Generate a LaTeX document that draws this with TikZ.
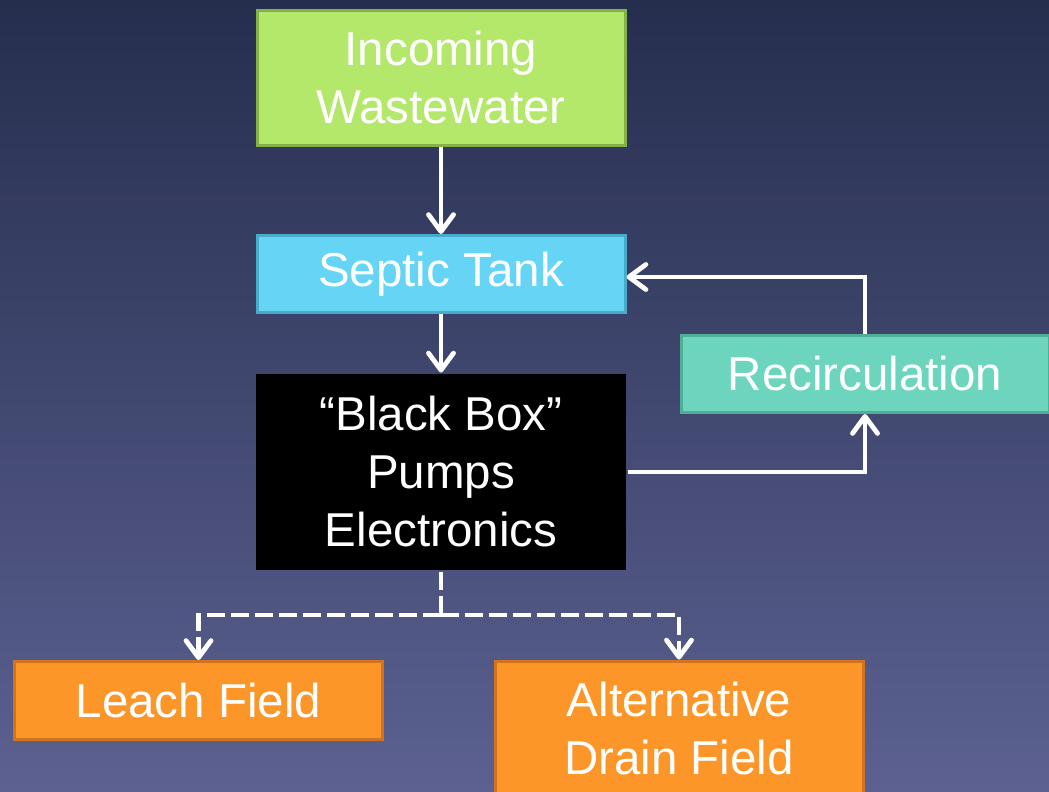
\documentclass[tikz,border=0pt]{standalone}
\usepackage{fontspec}
\setmainfont{Liberation Sans}
\usetikzlibrary{arrows.meta}
\definecolor{bgtop}{HTML}{262E4E}
\definecolor{bgmid}{HTML}{323A5D}
\definecolor{bgbot}{HTML}{5C6191}
\definecolor{grnfill}{HTML}{B4E86A}
\definecolor{grnline}{HTML}{86B04A}
\definecolor{blufill}{HTML}{66D4F5}
\definecolor{bluline}{HTML}{4AAACB}
\definecolor{tealfill}{HTML}{6DD5BD}
\definecolor{tealline}{HTML}{4FAE96}
\definecolor{orfill}{HTML}{FD9628}
\definecolor{orline}{HTML}{D07420}
\tikzset{
  box/.style={rectangle, line width=3pt, inner sep=0pt, minimum width=368pt,
    align=center, text=white, font=\fontsize{47.5}{58}\selectfont},
  arr/.style={white, line width=4.8pt, -{Straight Barb[length=17pt,width=25pt,line cap=round,line join=round]}},
  dashln/.style={white, line width=4.8pt, dash pattern=on 18pt off 6pt},
  dasharr/.style={dashln, -{Straight Barb[length=17pt,width=25pt,line cap=round,line join=round]}}
}
\begin{document}
\begin{tikzpicture}[x=1pt,y=-1pt]
\useasboundingbox (0,0) rectangle (1049,792);
\clip (0,0) rectangle (1049,792);
\shade[top color=bgtop, middle color=bgmid, bottom color=bgbot] (0,0) rectangle (1049,792);
\node[box, fill=grnfill, draw=grnline, minimum height=135pt] (inc) at (441,78) {Incoming\\Wastewater};
\node[box, fill=blufill, draw=bluline, minimum height=77pt] (sep) at (441,274) {Septic Tank};
\node[box, fill=black, minimum width=370pt, minimum height=196pt] (bb) at (441,472) {“Black Box”\\Pumps\\Electronics};
\node[box, fill=tealfill, draw=tealline, minimum height=77pt] (rec) at (865,374) {Recirculation};
\node[box, fill=orfill, draw=orline, minimum height=78pt] (leach) at (198.5,700.5) {Leach Field};
\node[box, fill=orfill, draw=orline, minimum height=136pt] (alt) at (679,729) {Alternative\\Drain Field};
\coordinate (split) at (441,615);
\draw[arr] (inc.south) -- (sep.north);
\draw[arr] (sep.south) -- (bb.north);
\draw[arr] (bb.east) -| (rec.south);
\draw[arr] (rec.north) |- ([yshift=-3pt]sep.east);
\draw[dashln] (bb.south) -- (split);
\draw[dasharr] (split) -| (leach.north);
\draw[dasharr] (split) -| (alt.north);
\end{tikzpicture}
\end{document}
